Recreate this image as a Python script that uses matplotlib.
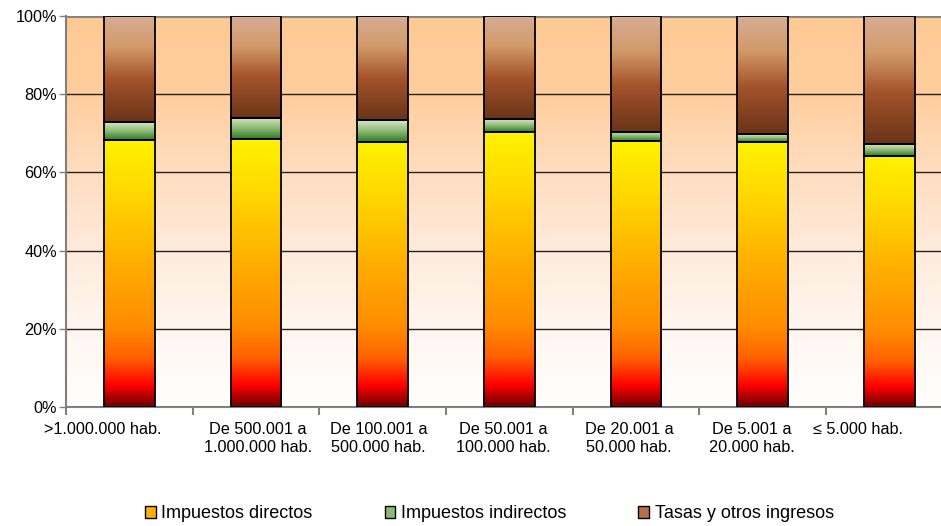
import numpy as np
import matplotlib
matplotlib.use("Agg")
import matplotlib.pyplot as plt
from matplotlib.colors import LinearSegmentedColormap
from matplotlib.patches import Patch, Rectangle
from matplotlib.transforms import ScaledTranslation

# ============================================================
# DATOS
# ============================================================

CATEGORIES = [
    ">1.000.000 hab.",
    "De 500.001 a\n1.000.000 hab.",
    "De 100.001 a\n500.000 hab.",
    "De 50.001 a\n100.000 hab.",
    "De 20.001 a\n50.000 hab.",
    "De 5.001 a\n20.000 hab.",
    "\u2264 5.000 hab.",
]

DIRECTOS = [68.3, 68.5, 67.8, 70.3, 68.0, 67.7, 64.2]
INDIRECTOS = [4.5, 5.4, 5.6, 3.3, 2.4, 2.0, 3.0]
TASAS = [27.2, 26.1, 26.6, 26.4, 29.6, 30.3, 32.8]

SERIES_LABELS = ["Impuestos directos", "Impuestos indirectos", "Tasas y otros ingresos"]
Y_TICKS = [0, 20, 40, 60, 80, 100]

# ============================================================
# ESTILO
# ============================================================

plt.rcParams["font.family"] = ["Liberation Sans", "DejaVu Sans"]
FONT_SIZE = 11.7
LEGEND_SIZE = 13
BAR_WIDTH = 0.4

# desplazamiento horizontal (px) de cada etiqueta del eje X, como en el original
LABEL_SHIFT_PX = [-27, 2, -4, -6, -7, -11, -31]

# gradientes (de abajo hacia arriba)
CMAP_DIRECTOS = LinearSegmentedColormap.from_list("dir", [
    (0.00, "#6a0000"),
    (0.08, "#ff0000"),
    (0.18, "#ff6000"),
    (0.30, "#ff8c00"),
    (0.55, "#ffb000"),
    (0.80, "#ffd800"),
    (1.00, "#fff200"),
])
CMAP_INDIRECTOS = LinearSegmentedColormap.from_list("ind", [
    (0.0, "#2e7a22"),
    (0.5, "#8dba74"),
    (1.0, "#d8e8c8"),
])
CMAP_TASAS = LinearSegmentedColormap.from_list("tas", [
    (0.0, "#6a3418"),
    (0.4, "#a4532a"),
    (0.7, "#d29a68"),
    (1.0, "#d6ad97"),
])
CMAP_FONDO = LinearSegmentedColormap.from_list("fondo", [
    (0.0, "#fffefd"),
    (0.2, "#fff6ef"),
    (0.4, "#ffebdc"),
    (0.6, "#ffddc0"),
    (0.8, "#ffce9e"),
    (1.0, "#ffc994"),
])

GRADIENT = np.linspace(0, 1, 256).reshape(-1, 1)


def gradient_bar(ax, x, bottom, height, cmap):
    x0 = x - BAR_WIDTH / 2
    ax.imshow(GRADIENT, cmap=cmap, aspect="auto", origin="lower",
              extent=(x0, x0 + BAR_WIDTH, bottom, bottom + height),
              interpolation="bilinear", zorder=2)
    ax.add_patch(Rectangle((x0, bottom), BAR_WIDTH, height, facecolor="none",
                           edgecolor="black", linewidth=1.3, zorder=3))


fig = plt.figure(figsize=(9.41, 5.26), dpi=100)
ax = fig.add_axes([66 / 941, 1 - 407 / 526, (952.6 - 66) / 941, (407 - 16) / 526])

n = len(CATEGORIES)
x = np.arange(n)

# fondo degradado
ax.imshow(GRADIENT, cmap=CMAP_FONDO, aspect="auto", origin="lower",
          extent=(-0.5, n - 0.5, 0, 100), zorder=0)

# lineas de cuadricula
for t in Y_TICKS[1:-1]:
    ax.axhline(t, color="#222222", linewidth=1.0, zorder=1)
ax.axhline(100, color="#808080", linewidth=2.0, zorder=1)

bottoms = np.zeros(n)
for values, cmap in [(DIRECTOS, CMAP_DIRECTOS), (INDIRECTOS, CMAP_INDIRECTOS), (TASAS, CMAP_TASAS)]:
    for i in range(n):
        gradient_bar(ax, x[i], bottoms[i], values[i], cmap)
    bottoms += np.array(values)

ax.set_xlim(-0.5, n - 0.5)
ax.set_ylim(0, 100)

# ejes
for side in ["top", "right"]:
    ax.spines[side].set_visible(False)
ax.spines["left"].set_color("#808080")
ax.spines["left"].set_linewidth(1.5)
ax.spines["bottom"].set_color("#808080")
ax.spines["bottom"].set_linewidth(1.5)

ax.set_yticks(Y_TICKS)
ax.set_yticklabels([f"{t}%" for t in Y_TICKS], fontsize=FONT_SIZE)
ax.tick_params(axis="y", length=5, width=1, color="#808080", pad=1.5)

# etiquetas X como texto (para poder desplazarlas)
ax.set_xticks([])
ax.set_xticks(np.arange(n + 1) - 0.5, minor=True)
ax.tick_params(axis="x", which="minor", length=6, width=1.5, color="#808080")
for i, (label, dx) in enumerate(zip(CATEGORIES, LABEL_SHIFT_PX)):
    offset = ScaledTranslation(dx / fig.dpi, -11 / 72, fig.dpi_scale_trans)
    ax.text(x[i], 0, label, transform=ax.get_xaxis_transform() + offset,
            ha="center", va="top", fontsize=FONT_SIZE, linespacing=1.2,
            multialignment="center")

# leyenda
handles = [
    Patch(facecolor="#ffb000", edgecolor="black", linewidth=1),
    Patch(facecolor="#8dba74", edgecolor="black", linewidth=1),
    Patch(facecolor="#b8704a", edgecolor="black", linewidth=1),
]
fig.legend(handles, SERIES_LABELS, loc="center", bbox_to_anchor=(0.52, 0.023),
           ncol=3, frameon=False, fontsize=LEGEND_SIZE, handlelength=0.6,
           handleheight=0.6, handletextpad=0.3, columnspacing=4.0)

fig.savefig("out.png", dpi=100)
